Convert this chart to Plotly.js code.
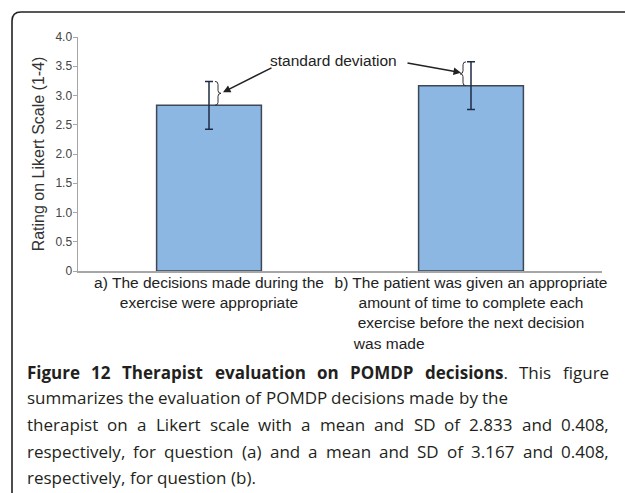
<!DOCTYPE html>
<html>
<head>
<meta charset="utf-8">
<script src="https://cdn.plot.ly/plotly-3.0.1.min.js"></script>
<style>
  html, body { margin: 0; padding: 0; background: #ffffff; }
  #chart { width: 625px; height: 493px; }
</style>
</head>
<body>
<div id="chart"></div>
<script>
// ---- data ----
const questionIds = ['a', 'b'];
const questionLabels = [
  'a) The decisions made during the<br>exercise were appropriate',
  'b) The patient was given an appropriate<br>amount of time to complete each<br>exercise before the next decision<br>was made'
];
const meanRatings = [2.833, 3.167];
const sdRatings = [0.408, 0.408];
const yTickVals = [0, 0.5, 1.0, 1.5, 2.0, 2.5, 3.0, 3.5, 4.0];
const yTickText = ['0', '0.5', '1.0', '1.5', '2.0', '2.5', '3.0', '3.5', '4.0'];
const yAxisTitle = 'Rating on Likert Scale (1-4)';
const calloutText = 'standard deviation';
const captionBoldText = 'Figure 12 Therapist evaluation on POMDP decisions';
const captionLines = [
  'Figure 12 Therapist evaluation on POMDP decisions. This figure',
  'summarizes the evaluation of POMDP decisions made by the',
  'therapist on a Likert scale with a mean and SD of 2.833 and 0.408,',
  'respectively, for question (a) and a mean and SD of 3.167 and 0.408,',
  'respectively, for question (b).'
];

// ---- layout helpers (page pixels -> paper coords) ----
const W = 625, H = 493;
const M = { l: 78, r: 23, t: 37, b: 222 };
const PW = W - M.l - M.r, PH = H - M.t - M.b;
const px = x => (x - M.l) / PW;
const py = y => (H - M.b - y) / PH;

// pad last line of second label so it sits left like the original wrap
const NB = '\u00A0';
const tickText = questionLabels.map((t, i) => {
  if (i !== 1) return t;
  const parts = t.split('<br>');
  parts[parts.length - 1] = parts[parts.length - 1] + NB.repeat(38);
  return parts.join('<br>');
});

const trace = {
  type: 'bar',
  x: questionIds,
  y: meanRatings,
  marker: { color: '#8db7e3', line: { color: '#3d4756', width: 1.5 } },
  error_y: { type: 'data', array: sdRatings, visible: true, color: '#1f2c45', thickness: 1.5, width: 4 },
  hoverinfo: 'skip'
};

// braces beside the upper half of each error bar (x in pixels from the bar centre, y in data)
function bracePath(dir, x0, mean, sd) {
  const y0 = mean, y1 = mean + sd, ym = (y0 + y1) / 2, r = sd * 0.12;
  const a = x0, b = x0 + 3 * dir, c = x0 + 6 * dir;
  return `M ${a},${y1} Q ${b},${y1} ${b},${y1 - r} L ${b},${ym + r} Q ${b},${ym} ${c},${ym} ` +
         `Q ${b},${ym} ${b},${ym - r} L ${b},${y0 + r} Q ${b},${y0} ${a},${y0}`;
}

const shapes = [
  {
    type: 'path', xref: 'x', yref: 'y', xsizemode: 'pixel', xanchor: 0,
    path: bracePath(1, 6, meanRatings[0], sdRatings[0]),
    line: { color: '#333333', width: 1 }
  },
  {
    type: 'path', xref: 'x', yref: 'y', xsizemode: 'pixel', xanchor: 1,
    path: bracePath(-1, -5, meanRatings[1], sdRatings[1]),
    line: { color: '#333333', width: 1 }
  },
  // figure frame (rounded top-left corner)
  {
    type: 'path', xref: 'paper', yref: 'paper',
    path: `M ${px(12)},${py(500)} L ${px(12)},${py(21)} Q ${px(12)},${py(12)} ${px(21)},${py(12)} L ${px(640)},${py(12)}`,
    line: { color: '#222222', width: 1.6 }
  }
];

const annotations = [
  {
    x: 0, y: meanRatings[0] + sdRatings[0] / 2 + 0.02, xref: 'x', yref: 'y', xshift: 14,
    ax: 50, ay: -25, showarrow: true, arrowhead: 2, arrowsize: 1, arrowwidth: 1.5,
    arrowcolor: '#222222', text: ''
  },
  {
    x: 1, y: meanRatings[1] + sdRatings[1] / 2 + 0.02, xref: 'x', yref: 'y', xshift: -10,
    ax: -55, ay: -10, showarrow: true, arrowhead: 2, arrowsize: 1, arrowwidth: 1.5,
    arrowcolor: '#222222', text: ''
  },
  {
    x: px(333), y: py(61), xref: 'paper', yref: 'paper', showarrow: false,
    text: calloutText, xanchor: 'center', yanchor: 'middle',
    font: { family: 'Liberation Sans, Arial, sans-serif', size: 15.5, color: '#222222' }
  }
];

// ---- caption: justified lines, laid out word by word ----
const CAP_FONT = 17, CAP_FAMILY = '"Open Sans"';
const capCtx = document.createElement('canvas').getContext('2d');
function textW(t, bold) {
  capCtx.font = (bold ? 'bold ' : '') + CAP_FONT + 'px ' + CAP_FAMILY;
  return capCtx.measureText(t).width;
}
const captionY = [372, 398, 424, 451, 477];
const justify = [true, false, true, true, false];
const capLeft = 27, capRight = 609;
captionLines.forEach((line, li) => {
  const words = line.split(' ');
  let offset = 0;
  const items = words.map(w => {
    const start = line.indexOf(w, offset);
    offset = start + w.length;
    let boldLen = 0;
    if (li === 0) boldLen = Math.max(0, Math.min(w.length, captionBoldText.length - start));
    const bPart = w.slice(0, boldLen), rPart = w.slice(boldLen);
    const width = (bPart ? textW(bPart, true) : 0) + (rPart ? textW(rPart, false) : 0);
    const html = (bPart ? '<b>' + bPart + '</b>' : '') + rPart;
    return { html, width };
  });
  const total = items.reduce((s, it) => s + it.width, 0);
  const gap = justify[li] && items.length > 1
    ? (capRight - capLeft - total) / (items.length - 1)
    : textW(' ', false);
  let x = capLeft;
  items.forEach(it => {
    annotations.push({
      x: px(x), y: py(captionY[li]), xref: 'paper', yref: 'paper', showarrow: false,
      text: it.html, xanchor: 'left', yanchor: 'middle', align: 'left',
      borderpad: 0, borderwidth: 0,
      font: { family: 'Open Sans, Noto Sans, sans-serif', size: CAP_FONT, color: '#231f20' }
    });
    x += it.width + gap;
  });
});

const layout = {
  width: W, height: H,
  margin: M,
  paper_bgcolor: '#ffffff', plot_bgcolor: '#ffffff',
  showlegend: false,
  bargap: 0.6,
  font: { family: 'Liberation Sans, Arial, sans-serif', color: '#222222' },
  xaxis: {
    type: 'category',
    tickvals: questionIds, ticktext: tickText,
    range: [-0.5, 1.5],
    showgrid: false, zeroline: false,
    showline: true, linecolor: '#a6a6a6', linewidth: 1.5,
    ticks: '', automargin: false, ticklabelstandoff: -3,
    tickfont: { family: 'Liberation Sans, Arial, sans-serif', size: 15.5, color: '#222222' }
  },
  yaxis: {
    range: [0, 4],
    tickvals: yTickVals, ticktext: yTickText,
    showgrid: false, zeroline: false,
    showline: true, linecolor: '#a6a6a6', linewidth: 1.5,
    ticks: 'outside', ticklen: 4, tickcolor: '#a6a6a6', tickwidth: 1,
    automargin: false, ticklabelstandoff: -2,
    tickfont: { family: 'Liberation Sans, Arial, sans-serif', size: 12, color: '#444444' },
    title: { text: yAxisTitle, standoff: 7,
             font: { family: 'Liberation Sans, Arial, sans-serif', size: 16, color: '#333333' } }
  },
  shapes: shapes,
  annotations: annotations
};

Plotly.newPlot('chart', [trace], layout, { displayModeBar: false, staticPlot: true });
</script>
</body>
</html>
